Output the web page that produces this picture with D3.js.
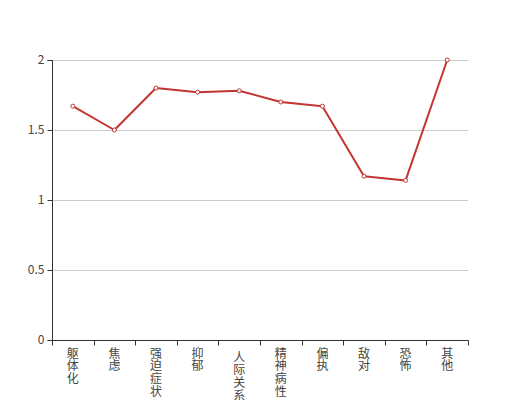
<!DOCTYPE html>
<html><head><meta charset="utf-8">
<script src="https://cdn.jsdelivr.net/npm/d3@7"></script>
<style>body{margin:0;background:#fff;}svg{display:block;}</style>
</head><body>
<svg id="c" width="520" height="400"></svg>
<script>
const categories = ["躯体化","焦虑","强迫症状","抑郁","人际关系敏感","精神病性","偏执","敌对","恐怖","其他"];
const values = [1.67,1.5,1.8,1.77,1.78,1.7,1.67,1.17,1.14,2.0];
const yTicks = [0,0.5,1,1.5,2];

const svg = d3.select("#c");
const L=52,R=468,T=60,B=340;
const x = d3.scaleBand().domain(categories).range([L,R]);
const y = d3.scaleLinear().domain([0,2]).range([B,T]);
const font = "'Noto Sans CJK SC', 'Noto Sans', sans-serif";
const txtColor = "#444";

// grid
svg.append("g").selectAll("line").data(yTicks.filter(d=>d>0)).join("line")
  .attr("x1",L).attr("x2",R).attr("y1",d=>y(d)+0.5).attr("y2",d=>y(d)+0.5)
  .attr("stroke","#ccc").attr("stroke-width",1);

// y axis
const ya = svg.append("g").attr("transform",`translate(${L+0.5},0)`)
  .call(d3.axisLeft(y).tickValues(yTicks).tickSize(5).tickPadding(3).tickFormat(d=>String(d)));
ya.select(".domain").attr("stroke","#333").attr("d",`M-5,${T+0.5}H0V${B+0.5}H-5`);
ya.selectAll(".tick line").attr("stroke","#333");
ya.selectAll("text").attr("fill",txtColor).style("font-family",font).style("font-size","12px");

// x axis
const xa = svg.append("g").attr("transform",`translate(0,${B+0.5})`);
xa.append("line").attr("x1",L).attr("x2",R+0.5).attr("stroke","#333");
const bounds = categories.map(c=>x(c)).concat([R]);
xa.selectAll("line.tk").data(bounds).join("line").attr("class","tk")
  .attr("x1",d=>Math.round(d)+0.5).attr("x2",d=>Math.round(d)+0.5).attr("y1",0).attr("y2",5)
  .attr("stroke","#333");
const lbl = xa.selectAll("g.lbl").data(categories).join("g").attr("class","lbl")
  .attr("transform",d=>`translate(${x(d)+x.bandwidth()/2},${d.length>5?4:0})`);
lbl.each(function(d){
  const g=d3.select(this);
  [...d].forEach((ch,i)=>g.append("text").attr("x",0).attr("y",17+i*12.7)
    .attr("text-anchor","middle").attr("fill",txtColor)
    .style("font-family",font).style("font-size","12px").text(ch));
});

// line
const line = d3.line().x((d,i)=>x(categories[i])+x.bandwidth()/2).y(d=>y(d));
svg.append("path").datum(values).attr("d",line).attr("fill","none")
  .attr("stroke","#c23531").attr("stroke-width",2).attr("stroke-linejoin","round");
svg.append("g").selectAll("circle").data(values).join("circle")
  .attr("cx",(d,i)=>x(categories[i])+x.bandwidth()/2).attr("cy",d=>y(d)).attr("r",2)
  .attr("fill","#fff").attr("stroke","#c23531").attr("stroke-width",1);
</script>
</body></html>
